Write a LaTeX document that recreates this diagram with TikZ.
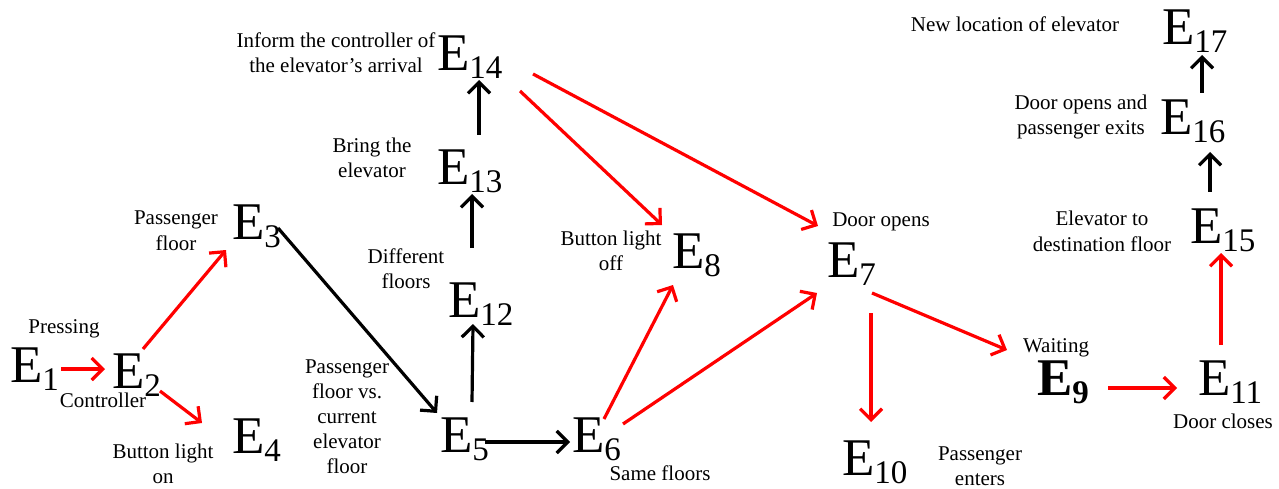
\documentclass[tikz,border=0pt]{standalone}
\usepackage{fontspec}
\setmainfont{Liberation Serif}
\usetikzlibrary{arrows.meta}
\newcommand\evt[1]{\fontsize{53}{53}\selectfont E\raisebox{-8pt}{\fontsize{33}{33}\selectfont #1}}
\begin{document}
\begin{tikzpicture}[x=1pt,y=-1pt,
  ev/.style={inner sep=0pt,outer sep=0pt,anchor=base west},
  lbl/.style={inner sep=0pt,outer sep=0pt,anchor=base,align=center,font=\fontsize{21}{25}\selectfont},
  conn/.style={line width=3.2pt,-{Straight Barb[length=11pt,width=22pt]}},
  rconn/.style={conn,draw=red},
  bconn/.style={conn,draw=black}]
\useasboundingbox (0,0) rectangle (1279,489);
% event nodes
\node[ev] (E1) at (10,382) {\evt{1}};
\node[ev] (E2) at (112,388) {\evt{2}};
\node[ev] (E3) at (232,240) {\evt{3}};
\node[ev] (E4) at (232,453) {\evt{4}};
\node[ev] (E5) at (440,452) {\evt{5}};
\node[ev] (E6) at (572,452) {\evt{6}};
\node[ev] (E7) at (827,277) {\evt{7}};
\node[ev] (E8) at (672,268) {\evt{8}};
\node[ev] (E9) at (1037,395) {\bfseries\evt{\bfseries 9}};
\node[ev] (E10) at (842,475) {\evt{10}};
\node[ev] (E11) at (1198,395) {\evt{11}};
\node[ev] (E12) at (448,317) {\evt{12}};
\node[ev] (E13) at (437,185) {\evt{13}};
\node[ev] (E14) at (437,71) {\evt{14}};
\node[ev] (E15) at (1190,243) {\evt{15}};
\node[ev] (E16) at (1160,135) {\evt{16}};
\node[ev] (E17) at (1162,45) {\evt{17}};
% labels (anchored at the baseline of the last line)
\node[lbl] (L1) at (64,333) {Pressing};
\node[lbl] (L2) at (103,407) {Controller};
\node[lbl] (L4) at (163,483) {Button light\\on};
\node[lbl] (L3) at (176,250) {Passenger\\floor};
\node[lbl] (L12) at (406,288) {Different\\floors};
\node[lbl] (L5) at (347,473) {Passenger\\floor vs.\\current\\elevator\\floor};
\node[lbl] (L6) at (660,480) {Same floors};
\node[lbl] (L10) at (980,485) {Passenger\\enters};
\node[lbl] (L8) at (611,270) {Button light\\off};
\node[lbl] (L7) at (881,226) {Door opens};
\node[lbl] (L9) at (1056,352) {Waiting};
\node[lbl] (L11) at (1223,428) {Door closes};
\node[lbl] (L15) at (1102,251) {Elevator to\\destination floor};
\node[lbl] (L16) at (1081,135) {Door opens and\\passenger exits};
\node[lbl] (L17) at (1015,32) {New location of elevator};
\node[lbl] (L13) at (372,178) {Bring the\\elevator};
\node[lbl] (L14) at (336,73) {Inform the controller of\\the elevator’s arrival};
% connectors
\draw[rconn] ([shift={(51,-13)}]E1.base west) -- ([shift={(-7,-19)}]E2.base west);
\draw[rconn] ([shift={(31,-39)}]E2.base west) -- ([shift={(-6,10)}]E3.base west);
\draw[rconn] ([shift={(48,3)}]E2.base west) -- ([shift={(-30,-30)}]E4.base west);
\draw[bconn] ([shift={(46,-12)}]E3.base west) -- ([shift={(-3,-39)}]E5.base west);
\draw[bconn] ([shift={(32,-50)}]E5.base west) -- ([shift={(25,7)}]E12.base west);
\draw[bconn] ([shift={(24,-69)}]E12.base west) -- ([shift={(35,9)}]E13.base west);
\draw[bconn] ([shift={(42,-50)}]E13.base west) -- ([shift={(42,9)}]E14.base west);
\draw[bconn] ([shift={(45,-10)}]E5.base west) -- ([shift={(-2,-10)}]E6.base west);
\draw[rconn] ([shift={(32,-33)}]E6.base west) -- ([shift={(1,17)}]E8.base west);
\draw[rconn] ([shift={(51,-28)}]E6.base west) -- ([shift={(-10,16)}]E7.base west);
\draw[rconn] ([shift={(83,20)}]E14.base west) -- ([shift={(-10,-43)}]E8.base west);
\draw[rconn] ([shift={(96,3)}]E14.base west) -- ([shift={(-9,-51)}]E7.base west);
\draw[rconn] ([shift={(44,36)}]E7.base west) -- ([shift={(29,-53)}]E10.base west);
\draw[rconn] ([shift={(45,16)}]E7.base west) -- ([shift={(-30,-45)}]E9.base west);
\draw[rconn] ([shift={(71,-7)}]E9.base west) -- ([shift={(-21,-7)}]E11.base west);
\draw[rconn] ([shift={(23,-50)}]E11.base west) -- ([shift={(31,10)}]E15.base west);
\draw[bconn] ([shift={(20,-51)}]E15.base west) -- ([shift={(50,17)}]E16.base west);
\draw[bconn] ([shift={(42,-42)}]E16.base west) -- ([shift={(40,10)}]E17.base west);
\end{tikzpicture}
\end{document}
